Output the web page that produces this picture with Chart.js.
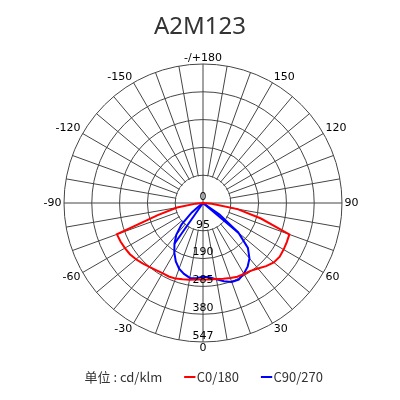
<!DOCTYPE html>
<html>
<head>
<meta charset="utf-8">
<script src="https://cdn.jsdelivr.net/npm/chart.js@4.4.1/dist/chart.umd.min.js"></script>
<style>
  html, body { margin: 0; padding: 0; background: #fff; }
  #wrap { width: 400px; height: 400px; position: relative; }
</style>
</head>
<body>
<div id="wrap"><canvas id="c"></canvas></div>
<script>
// ---- data (intensity in ring units) ----
const chartTitle = 'A2M123';
const unitLabel = '单位 : cd/klm';
const seriesNames = ['C0/180', 'C90/270'];
const seriesColors = ['#ff0000', '#0000ff'];

// gamma 0..180 deg, step 5
const c0Values   = [261, 262, 264, 268, 273, 278, 280, 283, 292, 305, 316, 320, 318, 316, 314, 205, 120, 30, 0,
                    0, 0, 0, 0, 0, 0, 0, 0, 0, 0, 0, 0, 0, 0, 0, 0, 0, 0];
const c180Values = [261, 262, 266, 270, 275, 277, 277, 280, 285, 292, 299, 305, 308, 311, 313, 160, 90, 25, 0,
                    0, 0, 0, 0, 0, 0, 0, 0, 0, 0, 0, 0, 0, 0, 0, 0, 0, 0];
const c90Values  = [252, 255, 265, 277, 287, 289, 279, 266, 247, 217, 158, 69, 0,
                    0, 0, 0, 0, 0, 0, 0, 0, 0, 0, 0, 0, 0, 0, 0, 0, 0, 0, 0, 0, 0, 0, 0, 0];
const c270Values = [252, 258, 260, 251, 239, 220, 196, 170, 142, 104, 50, 8, 0,
                    0, 0, 0, 0, 0, 0, 0, 0, 0, 0, 0, 0, 0, 0, 0, 0, 0, 0, 0, 0, 0, 0, 0, 0];
// straight chords of the C90/270 curve from the centre
const chordGammas = [50, -35];
const chordValues = [158, 170];

const ringTicks = [0, 95, 190, 285, 380, 475];
const ringTickLabels = ['0', '95', '190', '285', '380', '547'];
const angleTickLabels = {180: '-/+180', 150: '150', 120: '120', 90: '90', 60: '60', 30: '30', 0: '0',
  '-30': '-30', '-60': '-60', '-90': '-90', '-120': '-120', '-150': '-150'};

// ---- build ----
const STEP = 5;
const N = 360 / STEP;
const gammas = Array.from({length: N}, (_, i) => 180 - STEP * i);   // clockwise from top
const pick = (right, left, g) => g >= 0 ? right[g / STEP] : left[-g / STEP];
const redData = gammas.map(g => pick(c0Values, c180Values, g));
const blueData = gammas.map(g => pick(c90Values, c270Values, g));
const chordSets = chordGammas.map((g, k) => {
  const d = new Array(N).fill(null);
  const idx = gammas.indexOf(g);
  d[idx] = chordValues[k];
  d[(idx - 1 + N) % N] = 0;
  return {
    label: '_chord' + k, data: d, borderColor: seriesColors[1], borderWidth: 2,
    pointRadius: 0, fill: false, tension: 0, spanGaps: false
  };
});

const gridColor = '#454545';

const polarExtras = {
  id: 'polarExtras',
  beforeDatasetsDraw(chart) {
    const s = chart.scales.r, ctx = chart.ctx;
    const r1 = s.getDistanceFromCenterForValue(ringTicks[1]);
    ctx.save();
    ctx.beginPath();
    ctx.arc(s.xCenter, s.yCenter, r1 - 0.7, 0, Math.PI * 2);
    ctx.fillStyle = '#fff';
    ctx.fill();
    ctx.strokeStyle = gridColor;
    ctx.lineWidth = 1;
    ctx.beginPath();
    ctx.moveTo(s.xCenter - r1, s.yCenter); ctx.lineTo(s.xCenter + r1, s.yCenter);
    ctx.moveTo(s.xCenter, s.yCenter - r1); ctx.lineTo(s.xCenter, s.yCenter + r1);
    ctx.stroke();
    ctx.restore();
  },
  afterDatasetsDraw(chart) {
    const s = chart.scales.r, ctx = chart.ctx;
    ctx.save();
    ctx.font = '11px "DejaVu Sans"';
    ctx.fillStyle = '#000';
    ctx.textAlign = 'center';
    ctx.textBaseline = 'middle';
    s.ticks.forEach((t, i) => {
      const d = s.getDistanceFromCenterForValue(t.value);
      ctx.fillText(ringTickLabels[i] ?? String(t.value), s.xCenter, s.yCenter + d - 6);
    });
    ctx.restore();
  }
};

const legendItem = (text, color) => ({
  text, fillStyle: color, strokeStyle: color, lineWidth: 2, pointStyle: 'line',
  hidden: false, fontColor: '#333'
});

new Chart(document.getElementById('c'), {
  type: 'radar',
  data: {
    labels: gammas,
    datasets: [
      { label: seriesNames[0], data: redData, borderColor: seriesColors[0], borderWidth: 2,
        pointRadius: 0, fill: false, tension: 0 },
      { label: seriesNames[1], data: blueData, borderColor: seriesColors[1], borderWidth: 2,
        pointRadius: 0, fill: false, tension: 0 },
      ...chordSets
    ]
  },
  options: {
    responsive: true,
    maintainAspectRatio: false,
    animation: false,
    layout: { padding: { left: 0, right: 0, top: 0, bottom: 6.5 } },
    scales: {
      r: {
        min: 0, max: 475,
        afterSetDimensions: (scale) => { scale.xCenter += 3; },
        ticks: { stepSize: 95, display: false },
        grid: { circular: true, color: gridColor, lineWidth: 1 },
        angleLines: {
          display: true, lineWidth: 1,
          color: (ctx) => (ctx.index % 2 === 0 ? gridColor : 'rgba(0,0,0,0)')
        },
        pointLabels: {
          display: true, padding: 2.5, color: '#000',
          font: { family: '"DejaVu Sans"', size: 11, lineHeight: 0.673 },
          callback: (label) => angleTickLabels[label] ?? ''
        }
      }
    },
    plugins: {
      tooltip: { enabled: false },
      title: {
        display: true, text: chartTitle, color: '#333',
        font: { family: '"Noto Sans"', size: 24, weight: 'normal' },
        padding: { top: 13, bottom: 12.3 }
      },
      legend: {
        display: true, position: 'bottom', onClick: null,
        title: { display: true, text: '', font: { size: 1, lineHeight: 1 }, padding: { top: -10.1, bottom: 0 } },
        labels: {
          color: '#333', usePointStyle: true, boxWidth: 1, boxHeight: 8, padding: 27,
          font: { family: '"Noto Sans CJK SC", "Noto Sans", sans-serif', size: 13 },
          generateLabels: () => [
            legendItem(unitLabel, 'rgba(0,0,0,0)'),
            legendItem(seriesNames[0], seriesColors[0]),
            legendItem(seriesNames[1], seriesColors[1])
          ]
        }
      }
    }
  },
  plugins: [polarExtras]
});
</script>
</body>
</html>
